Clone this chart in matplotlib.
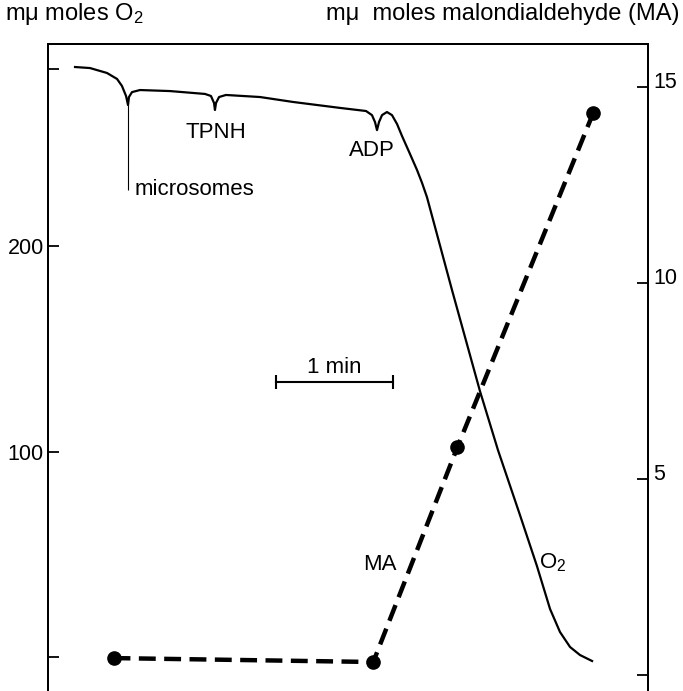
import matplotlib
matplotlib.use('Agg')
import matplotlib.pyplot as plt
from matplotlib.transforms import ScaledTranslation

plt.rcParams['font.family'] = ['Liberation Sans', 'DejaVu Sans']
plt.rcParams['mathtext.fontset'] = 'custom'
plt.rcParams['mathtext.rm'] = 'Liberation Sans'

# ---- data (time in minutes, O2 in mµ moles, MA in mµ moles) ----
o2_time = [0.231, 0.359, 0.504, 0.590, 0.632, 0.667, 0.684, 0.692, 0.718, 0.786,
           1.043, 1.342, 1.393, 1.419, 1.427, 1.436, 1.462, 1.521, 1.812, 2.094,
           2.496, 2.718, 2.769, 2.795, 2.812, 2.829, 2.855, 2.897, 2.940, 2.983,
           3.026, 3.094, 3.154, 3.197, 3.239, 3.453, 3.692, 3.846, 4.034, 4.179,
           4.291, 4.376, 4.462, 4.547, 4.650]
o2_value = [287.1, 286.6, 284.2, 281.3, 277.9, 273.0, 268.6, 272.5, 274.9, 275.9,
            275.4, 274.0, 273.0, 269.6, 266.2, 269.6, 272.5, 273.5, 272.5, 270.1,
            267.2, 265.7, 263.7, 260.3, 256.4, 260.3, 263.7, 265.2, 263.7, 259.4,
            253.5, 244.8, 237.0, 230.7, 223.8, 178.6, 129.4, 100.7, 69.1, 44.3,
            23.4, 12.2, 4.9, 1.0, -1.9]

ma_time = [0.56, 2.78, 3.50, 4.66]
ma_value = [0.43, 0.33, 5.82, 14.34]

o2_ticks = [0, 100, 200, 286]
o2_ticklabels = ['', '100', '200', '']
ma_ticks = [0, 5, 10, 15]
ma_ticklabels = ['', '5', '10', '15']

microsome_time = 0.684
microsome_range = [227.3, 268.6]
scalebar_time = [1.95, 2.95]
scalebar_level = 133.8

W, H = 683, 691
fig = plt.figure(figsize=(W / 100, H / 100), dpi=100)
ax = fig.add_axes([48 / W, 0, 600 / W, 1 - 44 / H])
ax2 = ax.twinx()

ax.set_xlim(0, 600 / 117)
ax.set_ylim(-16.5, 298.3)
ax2.set_ylim(-0.41, 16.1)

for a in (ax, ax2):
    a.spines['bottom'].set_visible(False)
    for s in ('top', 'left', 'right'):
        a.spines[s].set_linewidth(1.4)
ax.set_xticks([])

ax.set_yticks(o2_ticks)
ax.set_yticklabels(o2_ticklabels)
ax.tick_params(axis='y', direction='in', length=8, width=1.3, labelsize=15.5, pad=3)
ax2.set_yticks(ma_ticks)
ax2.set_yticklabels(ma_ticklabels)
ax2.tick_params(axis='y', direction='in', length=8, width=1.3, labelsize=15.5, pad=4)
off = ScaledTranslation(0, 7 / 100, fig.dpi_scale_trans)
for lab in ax2.get_yticklabels():
    lab.set_transform(lab.get_transform() + off)

# O2 trace
ax.plot(o2_time, o2_value, color='black', lw=1.6, solid_joinstyle='round')
ax.vlines(microsome_time, microsome_range[0], microsome_range[1], color='black', lw=0.8)

# MA dashed line with points
ax2.plot(ma_time, ma_value, color='black', lw=3.2, ls='--', dashes=(3.8, 1.9),
         marker='o', markersize=9.5, dash_capstyle='butt')

# scale bar
ax.plot(scalebar_time, [scalebar_level] * 2, color='black', lw=1.5,
        marker='|', markersize=10, markeredgewidth=1.5)
ax.text(sum(scalebar_time) / 2, 141.1, '1 min', ha='center', va='center', fontsize=16)

ax.text(0.744, 227.3, 'microsomes', ha='left', va='center', fontsize=16)
ax.text(1.436, 255.0, 'TPNH', ha='center', va='center', fontsize=16)
ax.text(2.769, 246.7, 'ADP', ha='center', va='center', fontsize=16)
ax.text(2.84, 45.0, 'MA', ha='center', va='center', fontsize=16)
ax.text(4.316, 45.7, r'O$\mathregular{_2}$', ha='center', va='center', fontsize=16)

fig.text(5 / W, 1 - 14 / H, r'mμ moles O$\mathregular{_2}$', ha='left', va='center', fontsize=17)
fig.text(680 / W, 1 - 14 / H, 'mμ  moles malondialdehyde (MA)', ha='right', va='center', fontsize=17)

fig.savefig('out.png', dpi=100)
